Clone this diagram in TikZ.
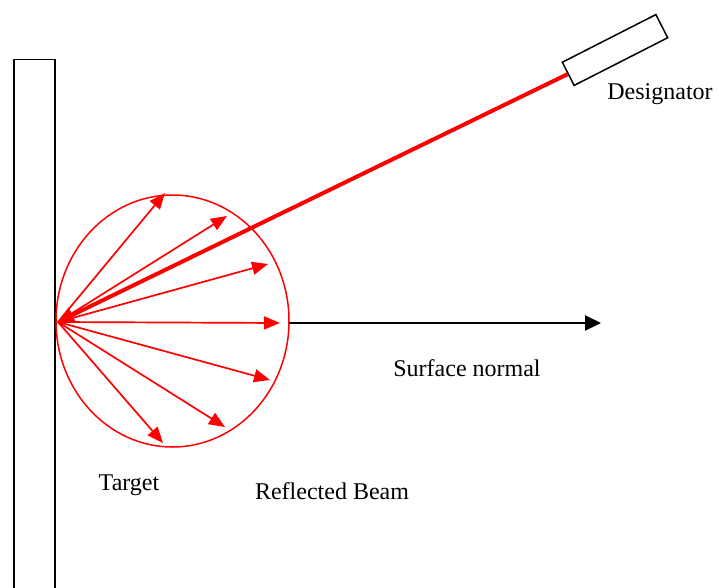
\documentclass[tikz,border=0pt]{standalone}
\usepackage{fontspec}
\setmainfont{Liberation Serif}
\usetikzlibrary{arrows.meta}
\definecolor{beamred}{RGB}{255,0,0}
\tikzset{
  refl/.style={draw=beamred, line width=1.7pt, -{Triangle[length=16pt,width=13pt]}},
  beam/.style={draw=beamred, line width=4pt, -{Triangle[length=16pt,width=16pt]}},
  normalarrow/.style={draw=black, line width=2.2pt, -{Triangle[length=16pt,width=15pt]}},
  lbl/.style={font=\fontsize{24}{28}\selectfont, inner sep=0pt},
  outline/.style={draw=black, line width=1.5pt, fill=white}
}
\begin{document}
\begin{tikzpicture}[x=1pt,y=-1pt]
\useasboundingbox (0,0) rectangle (719,588);
% wall
\node[outline, anchor=north west, minimum width=41pt, minimum height=540pt, inner sep=0pt] (wall) at (13,59) {};
% hit point and reflection ellipse
\coordinate (hit) at (58,322);
\draw[beamred, line width=1.5pt] (172.5,321) ellipse [x radius=116.5, y radius=126];
\coordinate (ceast) at (289,323);
% reflected arrows
\coordinate (r1) at (165,193);
\coordinate (r2) at (227,216);
\coordinate (r3) at (268,264);
\coordinate (r4) at (280,323);
\coordinate (r5) at (270,380);
\coordinate (r6) at (225,427);
\coordinate (r7) at (163,443);
\foreach \r in {r1,r2,r3,r4,r5,r6,r7} \draw[refl] (hit) -- (\r);
% designator
\node[outline, rotate=27, minimum width=105pt, minimum height=26pt, inner sep=0pt] (des) at (615,50) {};
\draw[beam] (des.west) -- (hit);
% surface normal
\coordinate (nend) at (601,323);
\draw[normalarrow] (ceast) -- (nend);
% labels
\node[lbl] (tdes) at (660,94) {Designator};
\node[lbl] (tnorm) at (467,368) {Surface normal};
\node[lbl] (ttarget) at (129,485) {Target};
\node[lbl] (trefl) at (332,491) {Reflected Beam};
\end{tikzpicture}
\end{document}
